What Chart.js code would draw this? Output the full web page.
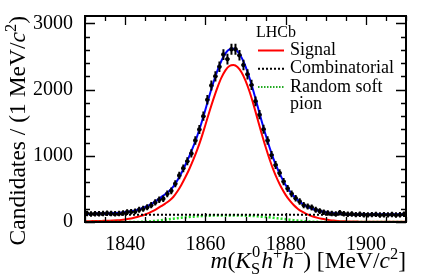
<!DOCTYPE html>
<html>
<head>
<meta charset="utf-8">
<script src="https://cdn.jsdelivr.net/npm/chart.js@4.4.1/dist/chart.umd.min.js"></script>
<style>
  html, body { margin: 0; padding: 0; background: #fff; }
  #wrap { width: 427px; height: 280px; }
</style>
</head>
<body>
<div id="wrap"><canvas id="c" width="427" height="280"></canvas></div>
<script>
// bin centres (1 MeV bins) and candidate counts
const binMass = [
  1830.5, 1831.5, 1832.5, 1833.5, 1834.5, 1835.5, 1836.5, 1837.5, 1838.5, 1839.5,
  1840.5, 1841.5, 1842.5, 1843.5, 1844.5, 1845.5, 1846.5, 1847.5, 1848.5, 1849.5,
  1850.5, 1851.5, 1852.5, 1853.5, 1854.5, 1855.5, 1856.5, 1857.5, 1858.5, 1859.5,
  1860.5, 1861.5, 1862.5, 1863.5, 1864.5, 1865.5, 1866.5, 1867.5, 1868.5, 1869.5,
  1870.5, 1871.5, 1872.5, 1873.5, 1874.5, 1875.5, 1876.5, 1877.5, 1878.5, 1879.5,
  1880.5, 1881.5, 1882.5, 1883.5, 1884.5, 1885.5, 1886.5, 1887.5, 1888.5, 1889.5,
  1890.5, 1891.5, 1892.5, 1893.5, 1894.5, 1895.5, 1896.5, 1897.5, 1898.5, 1899.5,
  1900.5, 1901.5, 1902.5, 1903.5, 1904.5, 1905.5, 1906.5, 1907.5, 1908.5, 1909.5
];
const binCounts = [
  128, 122, 126, 125, 127, 132, 128, 124, 130, 135,
  150, 155, 160, 185, 200, 222, 254, 295, 335, 352,
  425, 470, 577, 702, 811, 916, 1035, 1230, 1398, 1598,
  1846, 2060, 2200, 2344, 2528, 2459, 2608, 2608, 2518, 2370,
  2230, 2070, 1822, 1620, 1400, 1230, 1010, 860, 740, 610,
  505, 425, 360, 310, 255, 235, 220, 185, 165, 148,
  135, 128, 122, 140, 125, 118, 120, 112, 118, 110,
  108, 112, 115, 106, 110, 108, 114, 106, 110, 116
];

// fit curves sampled every 1 MeV
const curveMass = [
  1830, 1831, 1832, 1833, 1834, 1835, 1836, 1837, 1838, 1839,
  1840, 1841, 1842, 1843, 1844, 1845, 1846, 1847, 1848, 1849,
  1850, 1851, 1852, 1853, 1854, 1855, 1856, 1857, 1858, 1859,
  1860, 1861, 1862, 1863, 1864, 1865, 1866, 1867, 1868, 1869,
  1870, 1871, 1872, 1873, 1874, 1875, 1876, 1877, 1878, 1879,
  1880, 1881, 1882, 1883, 1884, 1885, 1886, 1887, 1888, 1889,
  1890, 1891, 1892, 1893, 1894, 1895, 1896, 1897, 1898, 1899,
  1900, 1901, 1902, 1903, 1904, 1905, 1906, 1907, 1908, 1909, 1910
];
const totalFit = [
  120, 121, 122, 123, 124, 126, 128, 131, 135, 140,
  147, 156, 168, 183, 202, 226, 255, 290, 330, 375,
  420, 470, 535, 625, 735, 860, 995, 1140, 1305, 1490,
  1695, 1905, 2105, 2285, 2435, 2545, 2605, 2615, 2575, 2485,
  2350, 2175, 1970, 1750, 1530, 1320, 1125, 950, 800, 670,
  560, 468, 392, 331, 283, 245, 215, 191, 172, 157,
  145, 136, 129, 124, 120, 118, 116, 115, 114, 113,
  113, 112, 112, 112, 112, 112, 112, 112, 112, 112, 112
];
const signalFit = [
  12, 13, 14, 15, 16, 18, 20, 23, 27, 32,
  39, 48, 60, 75, 92, 113, 138, 168, 202, 240,
  278, 320, 377, 460, 560, 675, 800, 940, 1095, 1270,
  1465, 1665, 1855, 2030, 2180, 2290, 2355, 2370, 2340, 2260,
  2135, 1970, 1772, 1556, 1341, 1136, 947, 779, 636, 513,
  410, 325, 256, 201, 159, 126, 100, 79, 62, 48,
  37, 28, 21, 16, 12, 10, 8, 7, 6, 5,
  5, 4, 4, 4, 4, 4, 4, 4, 4, 4, 4
];
const combFit = [
  108, 108, 108, 108, 108, 108, 108, 108, 108, 108,
  108, 108, 108, 108, 108, 108, 108, 108, 108, 108,
  108, 108, 108, 108, 108, 108, 108, 108, 108, 108,
  108, 108, 108, 108, 108, 108, 108, 108, 108, 108,
  108, 108, 108, 108, 108, 108, 108, 108, 108, 108,
  108, 108, 108, 108, 108, 108, 108, 108, 108, 108,
  108, 108, 108, 108, 108, 108, 108, 108, 108, 108,
  108, 108, 108, 108, 108, 108, 108, 108, 108, 108, 108
];
const pionFit = [
  0, 0, 0, 0, 0, 0, 0, 0, 0, 0,
  0, 0, 0, 0, 2, 5, 9, 14, 20, 27,
  34, 42, 50, 57, 64, 70, 76, 81, 85, 89,
  92, 95, 97, 99, 100, 100, 100, 100, 99, 98,
  96, 93, 90, 86, 81, 76, 70, 63, 56, 49,
  42, 35, 28, 22, 16, 11, 7, 4, 2, 1,
  0, 0, 0, 0, 0, 0, 0, 0, 0, 0,
  0, 0, 0, 0, 0, 0, 0, 0, 0, 0, 0
];

const xTicks = [1840, 1860, 1880, 1900];
const yTicks = [0, 1000, 2000, 3000];
const legendItems = [
  { label: ['Signal'], color: '#ff0000', dash: [] },
  { label: ['Combinatorial'], color: '#000000', dash: [2, 2] },
  { label: ['Random soft', 'pion'], color: '#22aa22', dash: [1.5, 1.5] }
];

const SERIF = '"Liberation Serif", "DejaVu Serif", serif';
const pts = (xs, ys) => xs.map((x, i) => ({ x, y: ys[i] }));

// draw text pieces with italics / super- and subscripts
function richWidth(ctx, parts, size) {
  let w = 0;
  for (const p of parts) {
    if (p.stack) {
      ctx.font = `${size * 0.7}px ${SERIF}`;
      const a = ctx.measureText(p.stack[0]).width;
      const b = ctx.measureText(p.stack[1]).width;
      w += Math.max(a, b) + 1;
    } else {
      const s = p.sup || p.sub ? size * 0.7 : size;
      ctx.font = `${p.i ? 'italic ' : ''}${s}px ${SERIF}`;
      w += ctx.measureText(p.t).width;
    }
  }
  return w;
}
function drawRich(ctx, parts, x, y, size) {
  let cx = x;
  ctx.textBaseline = 'alphabetic';
  ctx.textAlign = 'left';
  for (const p of parts) {
    if (p.stack) {
      ctx.font = `${size * 0.7}px ${SERIF}`;
      ctx.fillText(p.stack[0], cx + 1, y - size * 0.45);
      ctx.fillText(p.stack[1], cx, y + size * 0.24);
      cx += Math.max(ctx.measureText(p.stack[0]).width, ctx.measureText(p.stack[1]).width) + 1;
      continue;
    }
    const s = p.sup || p.sub ? size * 0.7 : size;
    ctx.font = `${p.i ? 'italic ' : ''}${s}px ${SERIF}`;
    const dy = p.sup ? -size * 0.4 : (p.sub ? size * 0.22 : 0);
    ctx.fillText(p.t, cx, y + dy);
    cx += ctx.measureText(p.t).width;
  }
}

const xTitle = [
  { t: 'm', i: true }, { t: '(' }, { t: 'K', i: true }, { stack: ['0', 'S'] },
  { t: 'h', i: true }, { t: '+', sup: true }, { t: 'h', i: true }, { t: '\u2212', sup: true },
  { t: ') [MeV/' }, { t: 'c', i: true }, { t: '2', sup: true }, { t: ']' }
];
const yTitle = [
  { t: 'Candidates / (1 MeV/' }, { t: 'c', i: true }, { t: '2', sup: true }, { t: ')' }
];

const decor = {
  id: 'decor',
  afterDatasetsDraw(chart) {
    const { ctx, chartArea: a, scales: { x, y } } = chart;
    // error bars on the data points
    ctx.save();
    ctx.beginPath();
    ctx.rect(a.left, a.top, a.right - a.left, a.bottom - a.top);
    ctx.clip();
    ctx.strokeStyle = '#000';
    ctx.lineWidth = 2;
    binMass.forEach((m, i) => {
      const n = binCounts[i];
      const e = Math.sqrt(n);
      const px = x.getPixelForValue(m);
      ctx.beginPath();
      ctx.moveTo(x.getPixelForValue(m - 0.5), y.getPixelForValue(n));
      ctx.lineTo(x.getPixelForValue(m + 0.5), y.getPixelForValue(n));
      ctx.moveTo(px, y.getPixelForValue(n - e) + 2);
      ctx.lineTo(px, y.getPixelForValue(n + e) - 2);
      ctx.stroke();
    });
    ctx.restore();
  },
  afterDraw(chart) {
    const { ctx, chartArea: a, scales: { x, y } } = chart;
    ctx.save();
    ctx.strokeStyle = '#000';
    ctx.fillStyle = '#000';
    // inward ticks
    ctx.lineWidth = 1.3;
    ctx.beginPath();
    for (let v = 0; v <= 3100; v += 200) {
      const py = Math.round(y.getPixelForValue(v)) + 0.5;
      const len = v % 1000 === 0 ? 10 : 5;
      ctx.moveTo(a.left, py); ctx.lineTo(a.left + len, py);
      ctx.moveTo(a.right, py); ctx.lineTo(a.right - len, py);
    }
    for (let v = 1830; v <= 1910; v += 5) {
      const px = Math.round(x.getPixelForValue(v)) + 0.5;
      const len = v % 20 === 0 ? 9 : 5;
      ctx.moveTo(px, a.bottom); ctx.lineTo(px, a.bottom - len);
      ctx.moveTo(px, a.top); ctx.lineTo(px, a.top + len);
    }
    ctx.stroke();
    // frame
    ctx.lineWidth = 2;
    ctx.strokeRect(a.left, a.top, a.right - a.left, a.bottom - a.top);

    // axis titles
    const xs = 23.5;
    const xw = richWidth(ctx, xTitle, xs);
    drawRich(ctx, xTitle, a.right - xw, 268, xs);
    const ys = 23.5;
    const yw = richWidth(ctx, yTitle, ys);
    ctx.save();
    ctx.translate(25, a.top);
    ctx.rotate(-Math.PI / 2);
    drawRich(ctx, yTitle, -yw, 0, ys);
    ctx.restore();

    // legend
    ctx.font = `16px ${SERIF}`;
    ctx.textAlign = 'left';
    ctx.textBaseline = 'alphabetic';
    ctx.fillText('LHCb', 256, 37);
    ctx.font = `18px ${SERIF}`;
    let ly = 55;
    legendItems.forEach(it => {
      ctx.save();
      ctx.strokeStyle = it.color;
      ctx.lineWidth = 2;
      ctx.setLineDash(it.dash);
      ctx.beginPath();
      ctx.moveTo(258, ly - 4.5);
      ctx.lineTo(284, ly - 4.5);
      ctx.stroke();
      ctx.restore();
      it.label.forEach((t, k) => ctx.fillText(t, 290, ly + k * 17));
      ly += 18.3;
    });
    ctx.restore();
  }
};

new Chart(document.getElementById('c'), {
  type: 'scatter',
  data: {
    datasets: [
      { label: 'Combinatorial', data: pts(curveMass, combFit), showLine: true, borderColor: '#000',
        borderWidth: 2, borderDash: [2, 2], pointRadius: 0 },
      { label: 'Random soft pion', data: pts(curveMass, pionFit), showLine: true, borderColor: '#22dd22',
        borderWidth: 2.5, borderDash: [2, 2], pointRadius: 0, cubicInterpolationMode: 'monotone' },
      { label: 'Signal', data: pts(curveMass, signalFit), showLine: true, borderColor: '#ff0000',
        borderWidth: 2, pointRadius: 0, cubicInterpolationMode: 'monotone' },
      { label: 'Total', data: pts(curveMass, totalFit), showLine: true, borderColor: '#0000ff',
        borderWidth: 2, pointRadius: 0, cubicInterpolationMode: 'monotone' },
      { label: 'Data', data: pts(binMass, binCounts), showLine: false, backgroundColor: '#000',
        borderColor: '#000', pointRadius: 2.2, pointBorderWidth: 0 }
    ]
  },
  options: {
    responsive: false,
    devicePixelRatio: 1,
    animation: false,
    layout: { padding: { left: 0, right: 21, top: 13, bottom: 0 } },
    plugins: { legend: { display: false }, tooltip: { enabled: false } },
    scales: {
      x: {
        type: 'linear', min: 1830, max: 1910,
        grid: { display: false }, border: { display: false },
        afterBuildTicks: (s) => { s.ticks = xTicks.map(v => ({ value: v })); },
        afterFit: (s) => { s.height = 58; },
        ticks: { color: '#000', padding: 3, maxRotation: 0, callback: (v) => String(v),
          font: { family: SERIF, size: 20 } }
      },
      y: {
        type: 'linear', min: 0, max: 3110,
        grid: { display: false }, border: { display: false },
        afterBuildTicks: (s) => { s.ticks = yTicks.map(v => ({ value: v })); },
        afterFit: (s) => { s.width = 85; },
        ticks: { color: '#000', padding: 4, callback: (v) => String(v),
          font: { family: SERIF, size: 20 } }
      }
    }
  },
  plugins: [decor]
});
</script>
</body>
</html>
